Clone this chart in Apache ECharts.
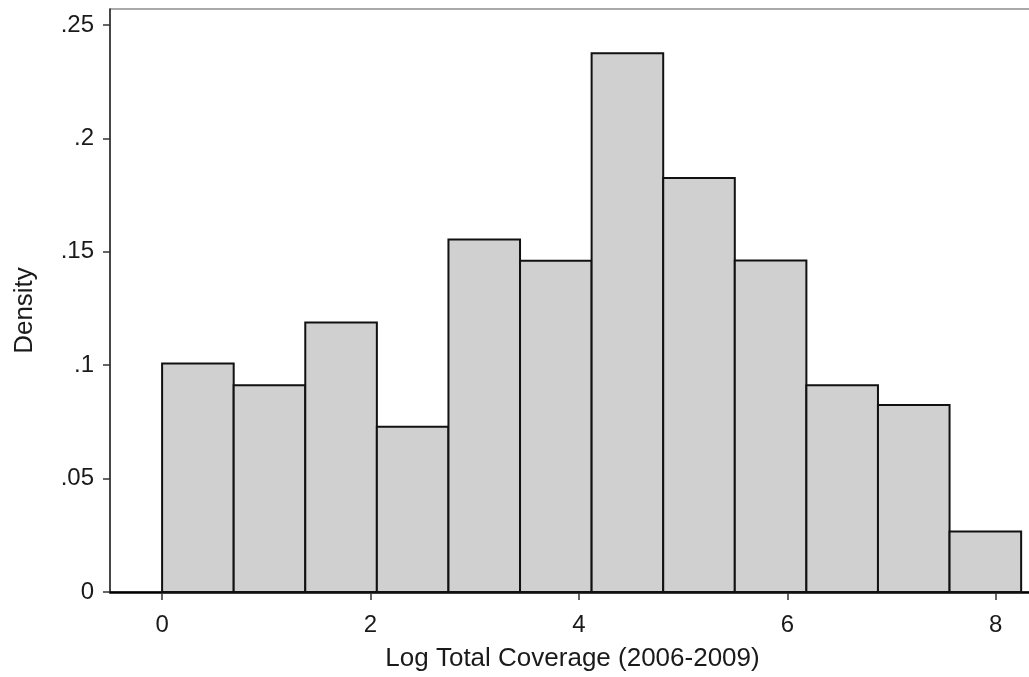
<!DOCTYPE html>
<html>
<head>
<meta charset="utf-8">
<script src="https://cdn.jsdelivr.net/npm/echarts@6/dist/echarts.min.js"></script>
<style>
  html, body { margin: 0; padding: 0; background: #fff; overflow: hidden; }
  #chart { width: 1040px; height: 677px; }
</style>
</head>
<body>
<div id="chart"></div>
<script>
// Histogram bin edges (log total coverage) and densities
const binEdges = [0, 0.687, 1.374, 2.061, 2.748, 3.435, 4.122, 4.809, 5.496, 6.183, 6.870, 7.557, 8.244];
const density = [0.1007, 0.0911, 0.1188, 0.0729, 0.1554, 0.1460, 0.2375, 0.1825, 0.1461, 0.0911, 0.0824, 0.0267];
const xTicks = [0, 2, 4, 6, 8];
const xTickLabels = ['0', '2', '4', '6', '8'];
const yTicks = [0, 0.05, 0.1, 0.15, 0.2, 0.25];
const yTickLabels = ['0', '.05', '.1', '.15', '.2', '.25'];
const xTitle = 'Log Total Coverage (2006-2009)';
const yTitle = 'Density';

const bars = density.map((d, i) => [binEdges[i], binEdges[i + 1], d]);

const FONT = '"Liberation Sans", Arial, sans-serif';
const chart = echarts.init(document.getElementById('chart'), null, { renderer: 'canvas' });
chart.setOption({
  animation: false,
  backgroundColor: '#ffffff',
  grid: {
    left: 110, top: 9, right: 5, bottom: 84,
    show: true, borderColor: '#555', borderWidth: 1.2, backgroundColor: 'transparent'
  },
  xAxis: {
    type: 'value', min: -0.5, max: 8.377,
    name: xTitle, nameLocation: 'middle', nameGap: 54,
    nameTextStyle: { fontFamily: FONT, fontSize: 26, color: '#1a1a1a' },
    axisLine: { show: true, onZero: false, lineStyle: { color: '#000', width: 2.5 } },
    axisTick: { show: true, length: 8, customValues: xTicks, lineStyle: { color: '#333', width: 1.5 } },
    axisLabel: {
      customValues: xTicks, margin: 21, fontFamily: FONT, fontSize: 24, color: '#1a1a1a',
      formatter: v => xTickLabels[xTicks.indexOf(v)]
    },
    splitLine: { show: false }
  },
  yAxis: {
    type: 'value', min: 0, max: 0.257,
    name: yTitle, nameLocation: 'middle', nameGap: 72, nameRotate: 90,
    nameTextStyle: { fontFamily: FONT, fontSize: 26, color: '#1a1a1a', padding: [0, 20, 0, 0] },
    axisLine: { show: true, onZero: false, lineStyle: { color: '#333', width: 1.6 } },
    axisTick: { show: true, length: 7, customValues: yTicks, lineStyle: { color: '#333', width: 1.5 } },
    axisLabel: {
      customValues: yTicks, margin: 16, fontFamily: FONT, fontSize: 24, color: '#1a1a1a',
      formatter: v => yTickLabels[yTicks.findIndex(t => Math.abs(t - v) < 1e-9)]
    },
    splitLine: { show: false }
  },
  series: [{
    type: 'custom',
    data: bars,
    encode: { x: [0, 1], y: 2 },
    renderItem: function (params, api) {
      const p0 = api.coord([api.value(0), api.value(2)]);
      const p1 = api.coord([api.value(1), 0]);
      return {
        type: 'rect',
        shape: { x: p0[0], y: p0[1], width: p1[0] - p0[0], height: p1[1] - p0[1] },
        style: { fill: '#d0d0d0', stroke: '#111', lineWidth: 2 }
      };
    },
    z: 1
  }]
});
</script>
</body>
</html>
